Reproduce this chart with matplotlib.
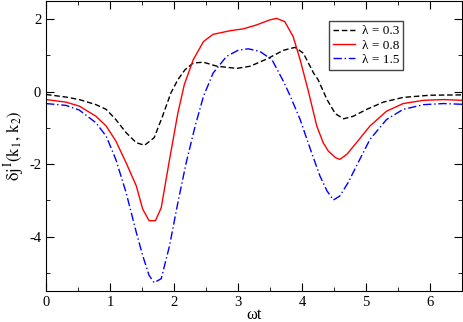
import matplotlib
matplotlib.use("Agg")
import matplotlib.pyplot as plt
from matplotlib.ticker import MultipleLocator

plt.rcParams['font.family'] = ['Liberation Serif', 'DejaVu Serif']
plt.rcParams['mathtext.fontset'] = 'stix'

x_03 = [0.0, 0.31, 0.52, 0.78, 0.94, 1.09, 1.25, 1.41, 1.54, 1.69, 1.82, 1.95, 2.06, 2.17, 2.30, 2.46, 2.67, 2.98, 3.19, 3.45, 3.71, 3.89, 4.02, 4.18, 4.25, 4.39, 4.52, 4.65, 4.80, 5.01, 5.27, 5.58, 6.0, 6.5]
y_03 = [-0.08, -0.15, -0.22, -0.36, -0.49, -0.77, -1.13, -1.41, -1.48, -1.27, -0.68, -0.04, 0.33, 0.60, 0.79, 0.81, 0.70, 0.64, 0.70, 0.90, 1.14, 1.22, 1.06, 0.51, 0.33, -0.22, -0.61, -0.75, -0.68, -0.49, -0.29, -0.16, -0.10, -0.09]

x_08 = [0.0, 0.31, 0.52, 0.78, 0.94, 1.09, 1.25, 1.41, 1.51, 1.61, 1.71, 1.80, 1.93, 2.06, 2.16, 2.30, 2.46, 2.61, 2.88, 3.08, 3.29, 3.5, 3.6, 3.73, 3.86, 3.97, 4.10, 4.23, 4.33, 4.41, 4.52, 4.59, 4.70, 4.85, 5.06, 5.32, 5.58, 5.90, 6.21, 6.5]
y_08 = [-0.22, -0.29, -0.40, -0.68, -0.95, -1.36, -1.96, -2.6, -3.24, -3.56, -3.56, -3.2, -1.87, -0.59, 0.19, 0.88, 1.38, 1.58, 1.68, 1.73, 1.84, 1.98, 2.02, 1.93, 1.52, 0.88, 0.0, -0.95, -1.41, -1.64, -1.82, -1.87, -1.73, -1.41, -0.95, -0.54, -0.33, -0.24, -0.22, -0.24]

x_15 = [0.0, 0.31, 0.52, 0.78, 0.94, 1.09, 1.25, 1.41, 1.51, 1.61, 1.69, 1.80, 1.93, 2.06, 2.19, 2.33, 2.46, 2.61, 2.82, 3.0, 3.16, 3.34, 3.53, 3.71, 3.81, 3.97, 4.13, 4.28, 4.39, 4.49, 4.59, 4.72, 4.85, 5.06, 5.32, 5.58, 5.90, 6.21, 6.5]
y_15 = [-0.33, -0.38, -0.51, -0.86, -1.23, -1.87, -2.78, -3.88, -4.52, -5.07, -5.27, -5.16, -4.25, -3.06, -1.96, -0.95, -0.13, 0.51, 0.97, 1.14, 1.18, 1.11, 0.88, 0.28, -0.1, -0.77, -1.59, -2.33, -2.74, -2.99, -2.88, -2.51, -2.05, -1.32, -0.77, -0.49, -0.36, -0.33, -0.35]

labels = ['λ = 0.3', 'λ = 0.8', 'λ = 1.5']

fig = plt.figure(figsize=(4.63, 3.22), dpi=100)
ax = fig.add_axes([0.0994, 0.0963, 0.8986, 0.9007])

ax.plot(x_03, y_03, color='black', linestyle=(0, (4, 2)), linewidth=1.0, label=labels[0])
ax.plot(x_08, y_08, color='#ff0000', linestyle='-', linewidth=1.0, label=labels[1])
ax.plot(x_15, y_15, color='#0000ff', linestyle=(0, (6, 2, 1, 2)), linewidth=1.0, label=labels[2])

ax.set_xlim(0, 6.5)
ax.set_ylim(-5.5, 2.5)
ax.xaxis.set_minor_locator(MultipleLocator(0.5))
ax.yaxis.set_minor_locator(MultipleLocator(1))
ax.tick_params(which='both', direction='in', top=True, right=True, labelsize=10.5)
ax.tick_params(which='major', length=6)
ax.tick_params(which='minor', length=3)
ax.set_xticks([0, 1, 2, 3, 4, 5, 6])
ax.set_xticklabels(['0', '1', '2', '3', '4', '5', '6'])
ax.set_yticks([2, 0, -2, -4])
ax.set_yticklabels(['2', '0', '-2', '-4'])

ax.set_xlabel('ωt', fontsize=12, labelpad=0)
ax.xaxis.set_label_coords(0.5, -0.056)
ax.set_ylabel(r'$\mathrm{\delta j^{\,I}(k_1,\, k_2)}$', fontsize=12, labelpad=2)

leg = ax.legend(loc='upper right', bbox_to_anchor=(0.858, 0.93), fontsize=9.5,
                frameon=True, fancybox=False, edgecolor='#444444', framealpha=1,
                handlelength=1.7, borderpad=0.3, labelspacing=0.15, handletextpad=0.5,
                borderaxespad=0)
leg.get_frame().set_linewidth(1.0)

fig.savefig('out.png', dpi=100)
